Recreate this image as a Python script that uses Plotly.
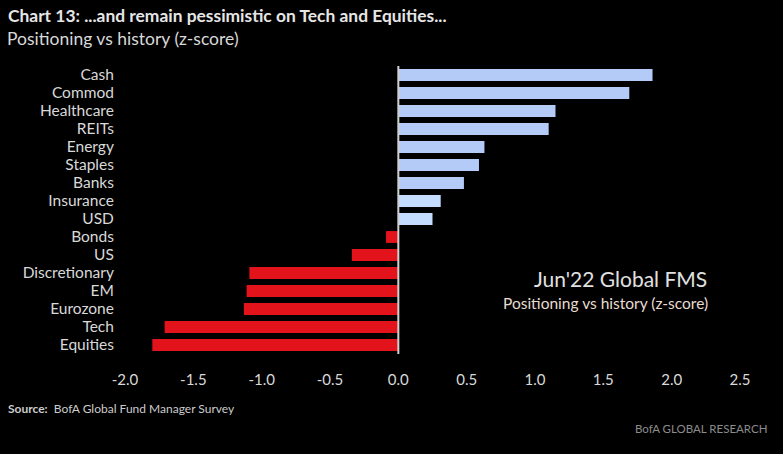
import plotly.graph_objects as go

categories = ["Cash", "Commod", "Healthcare", "REITs", "Energy", "Staples", "Banks",
              "Insurance", "USD", "Bonds", "US", "Discretionary", "EM", "Eurozone",
              "Tech", "Equities"]
values = [1.86, 1.69, 1.15, 1.10, 0.63, 0.59, 0.48, 0.31, 0.25, -0.09, -0.34,
          -1.09, -1.11, -1.13, -1.71, -1.80]
tick_vals = [-2.0, -1.5, -1.0, -0.5, 0.0, 0.5, 1.0, 1.5, 2.0, 2.5]
tick_text = ["-2.0", "-1.5", "-1.0", "-0.5", "0.0", "0.5", "1.0", "1.5", "2.0", "2.5"]

colors = []
for i, v in enumerate(values):
    if v < 0:
        colors.append("#e3131b")
    elif i >= 7:
        colors.append("#c4dcff")
    else:
        colors.append("#b5cbf7")

FONT = "Lato"
L, R, T, B = 125, 43, 66, 100
W, H = 783, 454

fig = go.Figure(go.Bar(
    x=values, y=categories, orientation="h",
    marker=dict(color=colors, line=dict(width=0)),
    width=0.66,
))

plot_h = H - T - B
plot_w = W - L - R
def px(x):
    return (x - L) / plot_w
def py(y):
    return (H - B - y) / plot_h

fig.update_layout(
    width=W, height=H,
    paper_bgcolor="black", plot_bgcolor="black",
    margin=dict(l=L, r=R, t=T, b=B),
    showlegend=False,
    font=dict(family=FONT, color="#d9d9d9", size=14),
    xaxis=dict(range=[-2.0, 2.5], tickvals=tick_vals, ticktext=tick_text,
               showgrid=False, zeroline=False, showline=False,
               ticks="outside", ticklen=12, tickcolor="black",
               tickfont=dict(size=15, color="#d9d9d9"), fixedrange=True),
    yaxis=dict(showgrid=False, zeroline=False, showline=False,
               tickmode="array", tickvals=categories, ticktext=categories,
               ticks="outside", ticklen=7, tickcolor="black",
               tickfont=dict(size=15.5, color="#d9d9d9"), range=[15.5, -0.5]),
    shapes=[dict(type="line", xref="x", yref="paper", x0=0, x1=0, y0=0, y1=1,
                 line=dict(color="#d0d0d0", width=2))],
    annotations=[
        dict(text="<b>Chart 13: ...and remain pessimistic on Tech and Equities...</b>",
             xref="paper", yref="paper", x=px(6), y=py(3), xanchor="left", yanchor="top",
             showarrow=False, font=dict(size=17.4, color="#e6e6e6", family=FONT)),
        dict(text="Positioning vs history (z-score)",
             xref="paper", yref="paper", x=px(5), y=py(26), xanchor="left", yanchor="top",
             showarrow=False, font=dict(size=17.5, color="#d9d9d9", family=FONT)),
        dict(text="Jun'22 Global FMS",
             xref="paper", yref="paper", x=px(709), y=py(278), xanchor="right", yanchor="middle",
             showarrow=False, font=dict(size=21, color="#e0e0e0", family=FONT)),
        dict(text="Positioning vs history (z-score)",
             xref="paper", yref="paper", x=px(710), y=py(303), xanchor="right", yanchor="middle",
             showarrow=False, font=dict(size=15.5, color="#e8dcd0", family=FONT)),
        dict(text="<b>Source:</b>  BofA Global Fund Manager Survey",
             xref="paper", yref="paper", x=px(6), y=py(408), xanchor="left", yanchor="middle",
             showarrow=False, font=dict(size=12, color="#cccccc", family=FONT)),
        dict(text="BofA GLOBAL RESEARCH",
             xref="paper", yref="paper", x=px(769), y=py(428), xanchor="right", yanchor="middle",
             showarrow=False, font=dict(size=11.5, color="#8c8c8c", family=FONT)),
    ],
)

fig.write_html("out.html", config={"displayModeBar": False},
               post_script="document.body.style.margin='0';")
